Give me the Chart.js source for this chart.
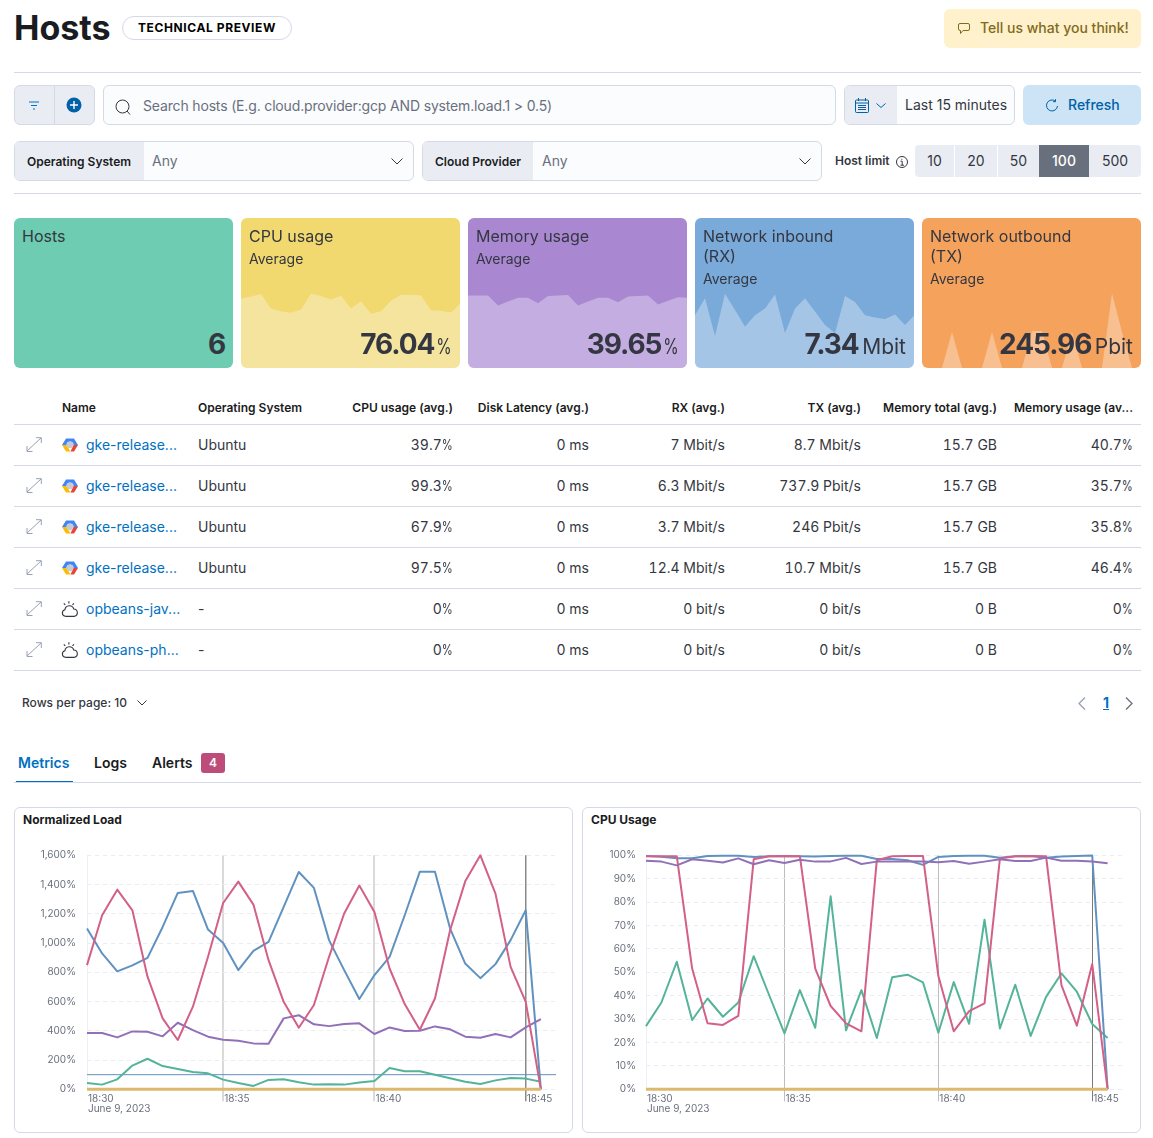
<!DOCTYPE html>
<html>
<head>
<meta charset="utf-8">
<title>Hosts</title>
<script src="https://cdn.jsdelivr.net/npm/chart.js@4"></script>
<style>
html, body { margin: 0; padding: 0; background: #fff; }
body { position: relative; width: 1153px; height: 1138px; overflow: hidden; font-family: Inter, sans-serif; color: #343741; font-size: 14px; }
.a { position: absolute; white-space: nowrap; box-sizing: border-box; }
.hr { position: absolute; left: 14px; width: 1127px; height: 1px; background: #D3DAE6; }
.box { border: 1px solid #D3DAE6; border-radius: 6px; background: #FBFCFD; }
.pre { background: #E9EDF3; }
.lbl { font-size: 12px; font-weight: 600; color: #1A1C21; }
.muted { color: #69707D; }
.card { position: absolute; top: 218px; width: 219px; height: 150px; border-radius: 6px; overflow: hidden; }
.card canvas { position: absolute; left: 0; top: 0; }
.card .t { position: absolute; left: 8px; top: 8px; font-size: 16px; line-height: 20px; }
.card .s { font-size: 14px; line-height: 20px; margin-top: 3px; }
.card .v { position: absolute; right: 8px; top: 108px; font-size: 28px; line-height: 36px; font-weight: 700; letter-spacing: -1.1px; word-spacing: -2px; white-space: nowrap; }
.card .v small { font-size: 21px; font-weight: 400; letter-spacing: 0; }
.card .v small.pct { display: inline-block; transform: scaleX(.75); transform-origin: 100% 50%; margin-left: -3px; }
.th { position: absolute; top: 400px; font-size: 12px; font-weight: 600; line-height: 15px; color: #1A1C21; white-space: nowrap; }
.td { position: absolute; font-size: 14px; line-height: 18px; white-space: nowrap; }
.num { font-variant-numeric: tabular-nums; }
.pc { display: inline-block; transform: scaleX(.8); transform-origin: 100% 50%; margin-left: -2.5px; }
.link { color: #0071C2; }
.lim { position: absolute; top: 145px; height: 32px; line-height: 32px; text-align: center; background: #E9EDF3; }
.panel { position: absolute; top: 807px; width: 559px; height: 326px; border: 1px solid #D3DAE6; border-radius: 6px; box-sizing: border-box; }
.panel b { position: absolute; left: 8px; top: 4px; font-size: 12px; line-height: 15px; font-weight: 700; color: #1A1C21; }
.chartbox { position: absolute; top: 830px; width: 559px; height: 301px; }
svg { position: absolute; overflow: visible; }
</style>
</head>
<body>

<div class="a" style="left:14px;top:7px;font-size:34px;line-height:42px;font-weight:700;color:#1A1C21">Hosts</div>
<div class="a" style="left:122px;top:16px;width:170px;height:24px;border:1px solid #D3DAE6;border-radius:12px;text-align:center;font-size:12px;line-height:22px;font-weight:700;letter-spacing:.6px;color:#000">TECHNICAL PREVIEW</div>
<div class="a" style="left:944px;top:9px;width:197px;height:39px;background:#FEF1CC;border-radius:6px;color:#826A1C;font-weight:500;line-height:38px;padding-left:36px">Tell us what you think!</div>
<svg style="left:958px;top:23px" width="12" height="12" viewBox="0 0 12 12" fill="none" stroke="#826A1C"><path d="M2 .5h8a1.5 1.5 0 0 1 1.5 1.5v4A1.5 1.5 0 0 1 10 7.5H5L2.5 10.5V7.5H2A1.5 1.5 0 0 1 .5 6V2A1.5 1.5 0 0 1 2 .5z"/></svg>
<div class="hr" style="top:72px"></div>

<div class="a box pre" style="left:14px;top:85px;width:81px;height:40px"></div>
<div class="a" style="left:54px;top:85px;width:1px;height:40px;background:#D3DAE6"></div>
<svg style="left:28px;top:101px" width="12" height="9" viewBox="0 0 12 9" stroke="#0071C2" stroke-width="1"><path d="M1 1h10M3 4.5h6M5 8h2"/></svg>
<svg style="left:66px;top:97px" width="16" height="16" viewBox="0 0 16 16"><circle cx="8" cy="8" r="7.5" fill="#0061A6"/><path d="M8 4v8M4 8h8" stroke="#fff" stroke-width="1.4"/></svg>
<div class="a box" style="left:103px;top:85px;width:733px;height:40px"></div>
<svg style="left:115px;top:99px" width="16" height="16" viewBox="0 0 16 16" fill="none" stroke="#343741"><circle cx="7.5" cy="7.5" r="6.5"/><path d="M12 12l3 3.5"/></svg>
<div class="a muted" style="left:143px;top:85px;line-height:42px;letter-spacing:-.16px">Search hosts (E.g. cloud.provider:gcp AND system.load.1 &gt; 0.5)</div>

<div class="a box" style="left:844px;top:85px;width:171px;height:40px;overflow:hidden"><div class="pre" style="width:52px;height:40px"></div></div>
<svg style="left:855px;top:98px" width="14" height="15" viewBox="0 0 14 15" fill="none" stroke="#0061A6"><rect x=".5" y="2" width="13" height="12.5" rx="1"/><path d="M.5 5h13M3.5 0v3M10.500 0v3M3 7.500h8M3 9.500h8M3 11.500h8" /></svg>
<svg style="left:876px;top:103px" width="10" height="5" viewBox="0 0 10 5" fill="none" stroke="#0061A6"><path d="M.5.5l4.500 4 4.500-4"/></svg>
<div class="a" style="left:905px;top:85px;line-height:40px">Last 15 minutes</div>
<div class="a" style="left:1023px;top:85px;width:118px;height:40px;background:#CCE4F5;border-radius:6px;color:#0061A6;font-weight:500;line-height:40px;padding-left:45px">Refresh</div>
<svg style="left:1046px;top:99px" width="12" height="13" viewBox="0 0 12 13" fill="none" stroke="#0061A6"><path d="M9.500 2.200A5.500 5.500 0 1 0 11.500 7M9.500 .2v2.500H7"/></svg>

<div class="a box" style="left:14px;top:141px;width:400px;height:40px;overflow:hidden"><div class="pre" style="width:129px;height:40px"></div></div>
<div class="a lbl" style="left:27px;top:141px;line-height:41px">Operating System</div>
<div class="a muted" style="left:152px;top:141px;line-height:40px">Any</div>
<svg style="left:391px;top:158px" width="12" height="7" viewBox="0 0 12 7" fill="none" stroke="#343741"><path d="M.5.500l5.500 5.500 5.500-5.500"/></svg>
<div class="a box" style="left:422px;top:141px;width:400px;height:40px;overflow:hidden"><div class="pre" style="width:110px;height:40px"></div></div>
<div class="a lbl" style="left:435px;top:141px;line-height:41px">Cloud Provider</div>
<div class="a muted" style="left:542px;top:141px;line-height:40px">Any</div>
<svg style="left:799px;top:158px" width="12" height="7" viewBox="0 0 12 7" fill="none" stroke="#343741"><path d="M.5.500l5.500 5.500 5.500-5.500"/></svg>

<div class="a lbl" style="left:835px;top:153px;line-height:16px;color:#343741">Host limit</div>
<svg style="left:896px;top:156px" width="12" height="12" viewBox="0 0 12 12" fill="none" stroke="#343741"><circle cx="6" cy="6" r="5.500"/><path d="M4.500 5.200H6.200V9.200M4.500 9.200H8M5.800 2.800v1"/></svg>
<div class="lim" style="left:915px;width:39px;border-radius:4px 0 0 4px">10</div>
<div class="lim" style="left:955px;width:42px">20</div>
<div class="lim" style="left:998px;width:41px">50</div>
<div class="lim" style="left:1039px;width:50px;background:#69707D;color:#fff;font-weight:500">100</div>
<div class="lim" style="left:1089px;width:52px;border-radius:0 4px 4px 0">500</div>
<div class="hr" style="top:193px"></div>

<div class="card" style="left:14px;background:#6DCCB1"><div class="t">Hosts</div><div class="v">6</div></div>
<div class="card" style="left:241px;background:#F1D86F"><canvas id="spark-cpu"></canvas><div class="t">CPU usage<div class="s">Average</div></div><div class="v">76.04<small class="pct">%</small></div></div>
<div class="card" style="left:468px;background:#A987D1"><canvas id="spark-mem"></canvas><div class="t">Memory usage<div class="s">Average</div></div><div class="v">39.65<small class="pct">%</small></div></div>
<div class="card" style="left:695px;background:#79AAD9"><canvas id="spark-rx"></canvas><div class="t">Network inbound<br>(RX)<div class="s">Average</div></div><div class="v">7.34 <small>Mbit</small></div></div>
<div class="card" style="left:922px;background:#F5A35C"><canvas id="spark-tx"></canvas><div class="t">Network outbound<br>(TX)<div class="s">Average</div></div><div class="v">245.96 <small>Pbit</small></div></div>

<div id="table"></div>

<div class="a" style="left:22px;top:695px;font-size:12px;line-height:16px;font-weight:500">Rows per page: 10</div>
<svg style="left:137px;top:700px" width="10" height="6" viewBox="0 0 10 6" fill="none" stroke="#343741"><path d="M.5.500l4.500 4.500 4.500-4.500"/></svg>
<svg style="left:1078px;top:697px" width="8" height="13" viewBox="0 0 8 13" fill="none" stroke="#98A2B3" stroke-width="1.300"><path d="M7 .5l-6 6 6 6"/></svg>
<div class="a link" style="left:1103px;top:694px;font-weight:700;line-height:18px;text-decoration:underline">1</div>
<svg style="left:1125px;top:697px" width="8" height="13" viewBox="0 0 8 13" fill="none" stroke="#69707D" stroke-width="1.300"><path d="M1 .5l6 6-6 6"/></svg>

<div class="a link" style="left:18px;top:754px;font-weight:600;line-height:18px">Metrics</div>
<div class="a" style="left:16px;top:781px;width:57px;height:2px;background:#0071C2"></div>
<div class="a" style="left:94px;top:754px;font-weight:600;line-height:18px;color:#1A1C21">Logs</div>
<div class="a" style="left:152px;top:754px;font-weight:600;line-height:18px;color:#1A1C21">Alerts</div>
<div class="a" style="left:201px;top:753px;width:24px;height:20px;background:#BD4C7A;border-radius:3px;color:#fff;font-size:12px;font-weight:600;line-height:20px;text-align:center">4</div>
<div class="hr" style="top:782px"></div>

<div class="panel" style="left:14px"><b>Normalized Load</b></div>
<div class="panel" style="left:582px"><b>CPU Usage</b></div>
<div class="chartbox" style="left:14px"><canvas id="chart-load"></canvas></div>
<div class="chartbox" style="left:582px"><canvas id="chart-cpu"></canvas></div>

<script>
// table
const hostNames = ['gke-release...', 'gke-release...', 'gke-release...', 'gke-release...', 'opbeans-jav...', 'opbeans-ph...'];
const hostOs = ['Ubuntu', 'Ubuntu', 'Ubuntu', 'Ubuntu', '-', '-'];
const hostCpu = ['39.7%', '99.3%', '67.9%', '97.5%', '0%', '0%'];
const hostDisk = ['0 ms', '0 ms', '0 ms', '0 ms', '0 ms', '0 ms'];
const hostRx = ['7 Mbit/s', '6.3 Mbit/s', '3.7 Mbit/s', '12.4 Mbit/s', '0 bit/s', '0 bit/s'];
const hostTx = ['8.7 Mbit/s', '737.9 Pbit/s', '246 Pbit/s', '10.7 Mbit/s', '0 bit/s', '0 bit/s'];
const hostMemTotal = ['15.7 GB', '15.7 GB', '15.7 GB', '15.7 GB', '0 B', '0 B'];
const hostMemUsage = ['40.7%', '35.7%', '35.8%', '46.4%', '0%', '0%'];

// metric tiles: one value every 30s
const sparkCpu = [81.1, 83.5, 86.2, 69.4, 66.3, 64.4, 68.3, 87, 83.9, 80, 84.2, 69.4, 78, 63.2, 66.3, 78.4, 85.4, 85.4, 84.6, 67.5, 66.7, 64.7, 76, 80, 84.6, 80, 83, 73.3, 66.7, 69.4, 60.5];
const sparkMem = [42.1, 42.1, 42.1, 36.3, 38.6, 40.7, 40.7, 37.6, 41.7, 42.1, 42.3, 36.3, 38.6, 40.7, 40.7, 38.2, 41.5, 41.7, 42.1, 36.9, 39, 41.1, 40.7, 37.2, 41.3, 41.9, 42.5, 36.3, 37.6, 40.3, 43];
const sparkRx = [7.1, 9.4, 4.3, 10, 7.8, 5.6, 7.1, 8, 9.9, 4.7, 8, 9.4, 7.6, 5.8, 4.7, 9.7, 8.9, 7.1, 6.8, 6.6, 7.2, 5.8, 7.2, 9.5, 7.8, 6.2, 6.3, 9, 7.9, 7.2, 3.6];
const sparkTx = [0, 0, 0, 246, 0, 0, 0, 246, 0, 0, 0, 253, 253, 0, 0, 246, 0, 0, 0, 508, 246, 0, 0, 253, 253, 0, 0, 508, 0, 0, 0];
const sparkCpuMax = 175;
const sparkMemMax = 87;
const sparkRxMax = 20.2;
const sparkTxMax = 1023;

// bottom charts
const xTickIndex = [0, 9, 19, 29];
const xTickLabels = [['18:30', 'June 9, 2023'], '18:35', '18:40', '18:45'];
const loadTicks = [0, 200, 400, 600, 800, 1000, 1200, 1400, 1600];
const cpuTicks = [0, 10, 20, 30, 40, 50, 60, 70, 80, 90, 100];

const loadGreen = [43, 32, 68, 162, 209, 159, 139, 118, 109, 66, 43, 23, 64, 68, 48, 32, 34, 32, 46, 57, 146, 123, 123, 100, 75, 52, 36, 61, 77, 73, 52];
const loadBlue = [1099, 929, 806, 847, 899, 1110, 1343, 1356, 1092, 1001, 815, 947, 1008, 1247, 1486, 1377, 1020, 815, 617, 781, 906, 1190, 1488, 1488, 1099, 860, 760, 856, 1020, 1224, 0];
const loadPink = [849, 1190, 1365, 1224, 770, 485, 337, 565, 906, 1274, 1420, 1263, 883, 598, 421, 576, 906, 1202, 1393, 1213, 826, 583, 407, 621, 1088, 1422, 1600, 1338, 837, 598, 0];
const loadPurple = [385, 385, 355, 396, 394, 362, 455, 405, 360, 339, 332, 314, 312, 485, 507, 444, 432, 446, 451, 378, 423, 398, 400, 430, 410, 360, 353, 378, 355, 423, 480];
const loadTan = [0, 0, 0, 0, 0, 0, 0, 0, 0, 0, 0, 0, 0, 0, 0, 0, 0, 0, 0, 0, 0, 0, 0, 0, 0, 0, 0, 0, 0, 0, 0];
const loadThreshold = [100, 100];

const cpuGreen = [27, 37.1, 54.5, 29.6, 38.8, 31, 37.1, 56.9, 40.3, 23.9, 42.4, 26.3, 82.5, 25.2, 42.4, 21.9, 47.9, 49, 45.7, 24.2, 45.8, 28, 72.5, 26, 44.7, 22.8, 39.5, 49.5, 41.7, 27.9, 21.9];
const cpuBlue = [99.7, 99.4, 98.7, 98.7, 99.7, 99.8, 99.8, 99.3, 99.6, 99.6, 99.6, 99.5, 99.7, 99.8, 99.8, 98.4, 98.4, 97.9, 95.9, 99.3, 99.7, 99.8, 99.8, 99, 99.6, 99.7, 99, 99.5, 99.7, 99.9, 0];
const cpuPink = [99.6, 99.6, 99.6, 51.6, 28.2, 27.5, 31.4, 98.3, 99.6, 99.7, 99.6, 51.6, 35.6, 28.2, 24.8, 97.9, 99.6, 99.7, 99.7, 48.4, 24.8, 33.4, 36.7, 98.6, 99.6, 99.7, 99.6, 44.5, 27.2, 53.5, 0];
const cpuPurple = [97.7, 97.3, 95.7, 98.3, 97.7, 96.9, 98.7, 96.2, 97.9, 96.7, 98.1, 97.3, 97.4, 98.9, 96.3, 97.3, 97.4, 97.4, 97.4, 97, 97.6, 96.4, 97.3, 98.3, 97.6, 97.6, 99, 97.7, 97.7, 97.3, 96.6];
const cpuTan = [0, 0, 0, 0, 0, 0, 0, 0, 0, 0, 0, 0, 0, 0, 0, 0, 0, 0, 0, 0, 0, 0, 0, 0, 0, 0, 0, 0, 0, 0, 0];

const C = { green: '#54B399', blue: '#6092C0', pink: '#D36086', purple: '#9170B8', tan: '#DDB96F' };

function cellText(text) {
    // the percent sign is narrower in the original font
    return text.endsWith('%') ? text.slice(0, -1) + '<span class="pc">%</span>' : text;
}

function renderTable() {
    const right = { cpu: 453, disk: 589, rx: 725, tx: 861, tot: 997, mem: 1133 };
    const rEdge = x => 'right:' + (1153 - x) + 'px';
    let html = '';
    html += '<div class="th" style="left:62px">Name</div><div class="th" style="left:198px">Operating System</div>';
    [['CPU usage (avg.)', right.cpu], ['Disk Latency (avg.)', right.disk], ['RX (avg.)', right.rx], ['TX (avg.)', right.tx], ['Memory total (avg.)', right.tot], ['Memory usage (av...', right.mem]]
        .forEach(h => { html += `<div class="th" style="${rEdge(h[1])}">${h[0]}</div>`; });
    html += '<div class="hr" style="top:424px"></div>';
    hostNames.forEach((name, i) => {
        const top = 436 + i * 41;
        const icon = hostOs[i] === '-'
            ? `<svg style="left:61px;top:${top}px" width="18" height="18" viewBox="0 0 16 16" fill="none" stroke="#343741"><path d="M4 14.500a3 3 0 0 1-.5-5.900 4 4 0 0 1 7.800-.6 3.300 3.300 0 0 1 .7 6.500z"/><path d="M7 1v2M2.500 3l1.300 1.300M11.500 3l-1.300 1.300"/></svg>`
            : `<svg style="left:62px;top:${top + 1}px" width="16" height="16" viewBox="0 0 16 16"><path d="M4 1.500h8L16 8h-4.500a3.500 3.500 0 0 0-7 0H0z" fill="#4285F4"/><path d="M16 8l-4 6.500H8.500L11.500 8z" fill="#EA4335"/><path d="M0 8h4.500L8.500 14.500H4z" fill="#FBBC05"/><circle cx="8" cy="8" r="3.300" fill="#C6CBD3"/></svg>`;
        html += `<svg style="left:26px;top:${top + 1}px" width="16" height="15" viewBox="0 0 16 15" fill="none" stroke="#98A2B3"><path d="M1 14L15 1M10 .7h5.300V6M1 9v5.500h5.500"/></svg>`;
        html += icon;
        html += `<div class="td link" style="left:86px;top:${top}px">${name}</div>`;
        html += `<div class="td" style="left:198px;top:${top}px">${hostOs[i]}</div>`;
        [[hostCpu, right.cpu], [hostDisk, right.disk], [hostRx, right.rx], [hostTx, right.tx], [hostMemTotal, right.tot], [hostMemUsage, right.mem]]
            .forEach(c => { html += `<div class="td num" style="${rEdge(c[1])};top:${top}px">${cellText(c[0][i])}</div>`; });
        html += `<div class="hr" style="top:${465 + i * 41}px"></div>`;
    });
    document.getElementById('table').innerHTML = html;
}

function renderSpark(id, values, yMax) {
    new Chart(document.getElementById(id), {
        type: 'line',
        data: {
            labels: values.map((v, i) => i),
            datasets: [{ data: values, borderWidth: 0, pointRadius: 0, tension: 0, fill: 'origin', backgroundColor: 'rgba(255,255,255,0.32)' }]
        },
        options: {
            responsive: false,
            animation: false,
            plugins: { legend: { display: false }, tooltip: { enabled: false } },
            scales: {
                x: { display: false },
                y: { display: false, min: 0, max: yMax }
            }
        }
    });
}

function renderLines(id, series, ticks, tickFmt, plot, xColors) {
    const box = document.getElementById(id).parentElement;
    const h = box.clientHeight;
    new Chart(document.getElementById(id), {
        type: 'line',
        data: { datasets: series },
        options: {
            responsive: true,
            maintainAspectRatio: false,
            animation: false,
            parsing: false,
            normalized: true,
            layout: { padding: { top: plot.top, right: plot.right, bottom: 0, left: 0 } },
            plugins: { legend: { display: false }, tooltip: { enabled: false } },
            elements: { point: { radius: 0 }, line: { tension: 0, borderJoinStyle: 'round' } },
            scales: {
                x: {
                    type: 'linear',
                    min: 0,
                    max: 31,
                    border: { display: false },
                    afterBuildTicks: s => { s.ticks = xTickIndex.map(v => ({ value: v })); },
                    afterFit: s => { s.height = h - plot.bottom; },
                    grid: {
                        color: c => xColors[c.index].color,
                        lineWidth: c => xColors[c.index].width,
                        tickColor: c => xColors[c.index].tick,
                        tickLength: 12
                    },
                    ticks: {
                        autoSkip: false,
                        maxRotation: 0,
                        align: 'start',
                        padding: -7,
                        labelOffset: 1,
                        color: '#69707D',
                        font: { family: 'Inter', size: 10, lineHeight: 1 },
                        callback: v => xTickLabels[xTickIndex.indexOf(v)]
                    }
                },
                y: {
                    min: 0,
                    max: ticks[ticks.length - 1],
                    // elastic charts draws the horizontal grid dashed
                    border: { display: false, dash: [4, 4] },
                    afterBuildTicks: s => { s.ticks = ticks.map(v => ({ value: v })); },
                    afterFit: s => { s.width = plot.left; },
                    grid: { color: '#EAEDF3', lineWidth: 1, drawTicks: false },
                    ticks: {
                        padding: plot.pad,
                        color: '#69707D',
                        font: { family: 'Inter', size: 10 },
                        callback: tickFmt
                    }
                }
            }
        }
    });
}

function lineSeries(values, color, width) {
    return { data: values.map((v, i) => ({ x: i, y: v })), borderColor: color, borderWidth: width || 2, clip: false };
}

function init() {
    Chart.defaults.font.family = 'Inter';
    renderTable();

    renderSpark('spark-cpu', sparkCpu, sparkCpuMax);
    renderSpark('spark-mem', sparkMem, sparkMemMax);
    renderSpark('spark-rx', sparkRx, sparkRxMax);
    renderSpark('spark-tx', sparkTx, sparkTxMax);

    const loadThresholdLine = { data: [{ x: 0, y: loadThreshold[0] }, { x: 31, y: loadThreshold[1] }], borderColor: C.blue, borderWidth: 1, clip: false };
    renderLines('chart-load',
        [lineSeries(loadTan, C.tan, 3), lineSeries(loadPink, C.pink), lineSeries(loadPurple, C.purple), lineSeries(loadBlue, C.blue), lineSeries(loadGreen, C.green), loadThresholdLine],
        loadTicks,
        v => v.toLocaleString('en-US') + '%',
        { left: 73, top: 25.3, right: 17, bottom: 259.3, pad: 11 },
        [
            { color: '#EDF0F6', width: 1, tick: 'rgba(0,0,0,0)' },
            { color: '#DADADA', width: 2, tick: '#DADADA' },
            { color: '#DADADA', width: 2, tick: '#DADADA' },
            { color: '#8A8A8A', width: 1.5, tick: '#8A8A8A' }
        ]);

    renderLines('chart-cpu',
        [lineSeries(cpuTan, C.tan, 3), lineSeries(cpuPurple, C.purple), lineSeries(cpuPink, C.pink), lineSeries(cpuBlue, C.blue), lineSeries(cpuGreen, C.green)],
        cpuTicks,
        v => v + '%',
        { left: 64, top: 25.3, right: 18, bottom: 259.3, pad: 10 },
        [
            { color: '#EDF0F6', width: 1, tick: 'rgba(0,0,0,0)' },
            { color: '#BDBDBD', width: 1, tick: '#BDBDBD' },
            { color: '#BDBDBD', width: 1, tick: '#BDBDBD' },
            { color: '#7A7A7A', width: 1, tick: '#7A7A7A' }
        ]);
}

init();
</script>
</body>
</html>
